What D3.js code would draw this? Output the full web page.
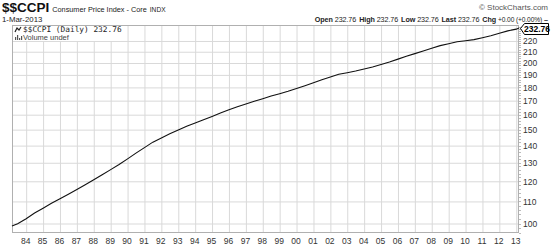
<!DOCTYPE html>
<html><head><meta charset="utf-8">
<script src="https://cdn.jsdelivr.net/npm/d3@7"></script>
<style>
html,body{margin:0;padding:0;background:#fff;}
svg{display:block;font-family:"Liberation Sans",Arial,sans-serif;}
</style></head>
<body>
<svg id="c" width="551" height="246"></svg>
<script>
const dates = ["1983-03","1983-07","1984-01","1984-07","1985-01","1985-07","1986-01","1986-07","1987-01","1987-07",
"1988-01","1988-07","1989-01","1989-07","1990-01","1990-07","1991-01","1991-07","1992-01","1992-07",
"1993-01","1993-07","1994-01","1994-07","1995-01","1995-07","1996-01","1996-07","1997-01","1997-07",
"1998-01","1998-07","1999-01","1999-07","2000-01","2000-07","2001-01","2001-07","2002-01","2002-07",
"2003-01","2003-07","2004-01","2004-07","2005-01","2005-07","2006-01","2006-07","2007-01","2007-07",
"2008-01","2008-07","2009-01","2009-07","2010-01","2010-07","2011-01","2011-07","2012-01","2012-07",
"2013-01","2013-03"];
const values = [98.9,99.9,102.1,104.6,106.8,109.1,111.3,113.5,115.8,118.2,
120.8,123.4,126.2,129.0,132.2,135.5,138.8,142.1,144.7,147.3,
149.7,152.2,154.3,156.5,158.8,161.2,163.4,165.6,167.5,169.5,
171.4,173.4,175.2,177.0,179.1,181.3,183.7,186.1,188.3,190.5,
191.8,193.2,194.9,196.6,198.7,200.9,203.4,205.9,208.3,210.7,
213.1,215.6,217.4,219.2,220.2,221.3,223.1,225.0,227.4,229.8,
231.5,232.76];
const yTicks = [100,110,120,130,140,150,160,170,180,190,200,210,220];
const lastValue = 232.76;
const titleSym = "$$CCPI";
const titleName = "Consumer Price Index - Core";
const titleEx = "INDX";
const dateLabel = "1-Mar-2013";
const quote = [["Open","232.76"],["High","232.76"],["Low","232.76"],["Last","232.76"],["Chg","+0.00 (+0.00%)"]];

const parse = d3.timeParse("%Y-%m");
const data = dates.map((d,i)=>({d:parse(d), v:values[i]}));

const L=12, R=519, T=25, B=233;
const svg = d3.select("#c");
const x = d3.scaleTime().domain([parse("1983-03"), parse("2013-03")]).range([L,R]);
const y = d3.scaleLog().domain([95.98, 235.7]).range([B,T]);

// grid
const grid = svg.append("g");
grid.append("g").attr("transform",`translate(0,${B})`)
  .call(d3.axisBottom(x).ticks(d3.timeYear.every(1)).tickSize(-(B-T)).tickFormat(""))
  .call(g=>{g.select(".domain").remove(); g.selectAll("line").attr("stroke","#d9d9d9");});
grid.append("g").attr("transform",`translate(${L},0)`)
  .call(d3.axisLeft(y).tickValues(yTicks).tickSize(-(R-L)).tickFormat(""))
  .call(g=>{g.select(".domain").remove(); g.selectAll("line").attr("stroke","#d9d9d9");});

// frame
svg.append("rect").attr("x",L+0.5).attr("y",T+0.5).attr("width",R-L-1).attr("height",B-T-1)
  .attr("fill","none").attr("stroke","#b0b0b0");

// minor ticks on right
const minor = d3.range(96,236,2);
svg.append("g").selectAll("line").data(minor).join("line")
  .attr("x1",R).attr("x2",R+2).attr("y1",d=>Math.round(y(d))+0.5).attr("y2",d=>Math.round(y(d))+0.5)
  .attr("stroke","#bbb");

// x axis labels
svg.append("g").attr("transform",`translate(-1,${B})`)
  .call(d3.axisBottom(x).ticks(d3.timeYear.every(1)).tickSize(0).tickPadding(5).tickFormat(d3.timeFormat("%y")))
  .call(g=>{g.select(".domain").remove(); g.selectAll("text").attr("font-size","8.5px").attr("fill","#333").attr("font-family","Liberation Sans, Arial");});

// y axis labels
svg.append("g").attr("transform",`translate(${R},0)`)
  .call(d3.axisRight(y).tickValues(yTicks).tickSize(0).tickPadding(4).tickFormat(d3.format("d")))
  .call(g=>{g.select(".domain").remove(); g.selectAll("text").attr("font-size","8.5px").attr("fill","#333").attr("font-family","Liberation Sans, Arial");});

// line
svg.append("path").datum(data)
  .attr("d", d3.line().x(d=>x(d.d)).y(d=>y(d.v)))
  .attr("fill","none").attr("stroke","#111").attr("stroke-width",1.1);

// last value box
const ly = Math.round(y(lastValue))+0.5;
const bx = R+1.5;
svg.append("path")
  .attr("d",`M${bx},${ly} L${bx+4},${ly-5} L${bx+28},${ly-5} L${bx+28},${ly+6} L${bx+4},${ly+6} Z`)
  .attr("fill","#fff").attr("stroke","#000").attr("stroke-width",1);
svg.append("text").attr("x",bx+16.5).attr("y",ly+3.5).attr("text-anchor","middle")
  .attr("font-size","8.5px").attr("font-weight","bold").attr("fill","#000").text(lastValue.toFixed(2));

// legend
svg.append("rect").attr("x",L+1).attr("y",T+1).attr("width",108).attr("height",15).attr("fill","#fff");
const lg = svg.append("g");
lg.append("path").attr("d","M15,32 L17,28 L19,30 L21,27").attr("fill","none").attr("stroke","#222").attr("stroke-width",1.2);
lg.append("text").attr("x",23).attr("y",32).attr("font-family","DejaVu Sans Mono, monospace")
  .attr("font-size","7.8px").attr("fill","#222").text(`${titleSym} (Daily) ${lastValue.toFixed(2)}`);
lg.append("g").selectAll("rect").data([[15,3],[17,5],[19,2],[21,4]]).join("rect")
  .attr("x",d=>d[0]).attr("y",d=>40-d[1]).attr("width",1.2).attr("height",d=>d[1]).attr("fill","#555");
lg.append("text").attr("x",23).attr("y",40).attr("font-size","7.5px").attr("fill","#444").text("Volume undef");

// header
const h1 = svg.append("text").attr("x",2).attr("y",12);
h1.append("tspan").attr("font-size","13.5px").attr("font-weight","bold").attr("fill","#111").text(titleSym);
h1.append("tspan").attr("font-size","7.3px").attr("fill","#222").attr("dx",3).text(titleName);
h1.append("tspan").attr("font-size","6.6px").attr("fill","#222").attr("dx",3).text(titleEx);
svg.append("text").attr("x",2).attr("y",22).attr("font-size","7.8px").attr("fill","#222").text(dateLabel);
svg.append("text").attr("x",548).attr("y",10).attr("text-anchor","end").attr("font-size","8px").attr("fill","#555")
  .text("\u00A9 StockCharts.com");
const q = svg.append("text").attr("x",548).attr("y",22).attr("text-anchor","end").attr("font-size","7.2px")
  .attr("letter-spacing","-0.1px").attr("fill","#222");
quote.forEach((p,i)=>{
  q.append("tspan").attr("font-weight","bold").attr("dx",i?3:0).text(p[0]);
  q.append("tspan").attr("dx",2).attr("font-size", p[0]==="Chg"?"6.6px":"7.2px").text(p[1]);
});
q.append("tspan").attr("dx",2).attr("font-weight","bold").text("\u2013");
</script>
</body></html>
